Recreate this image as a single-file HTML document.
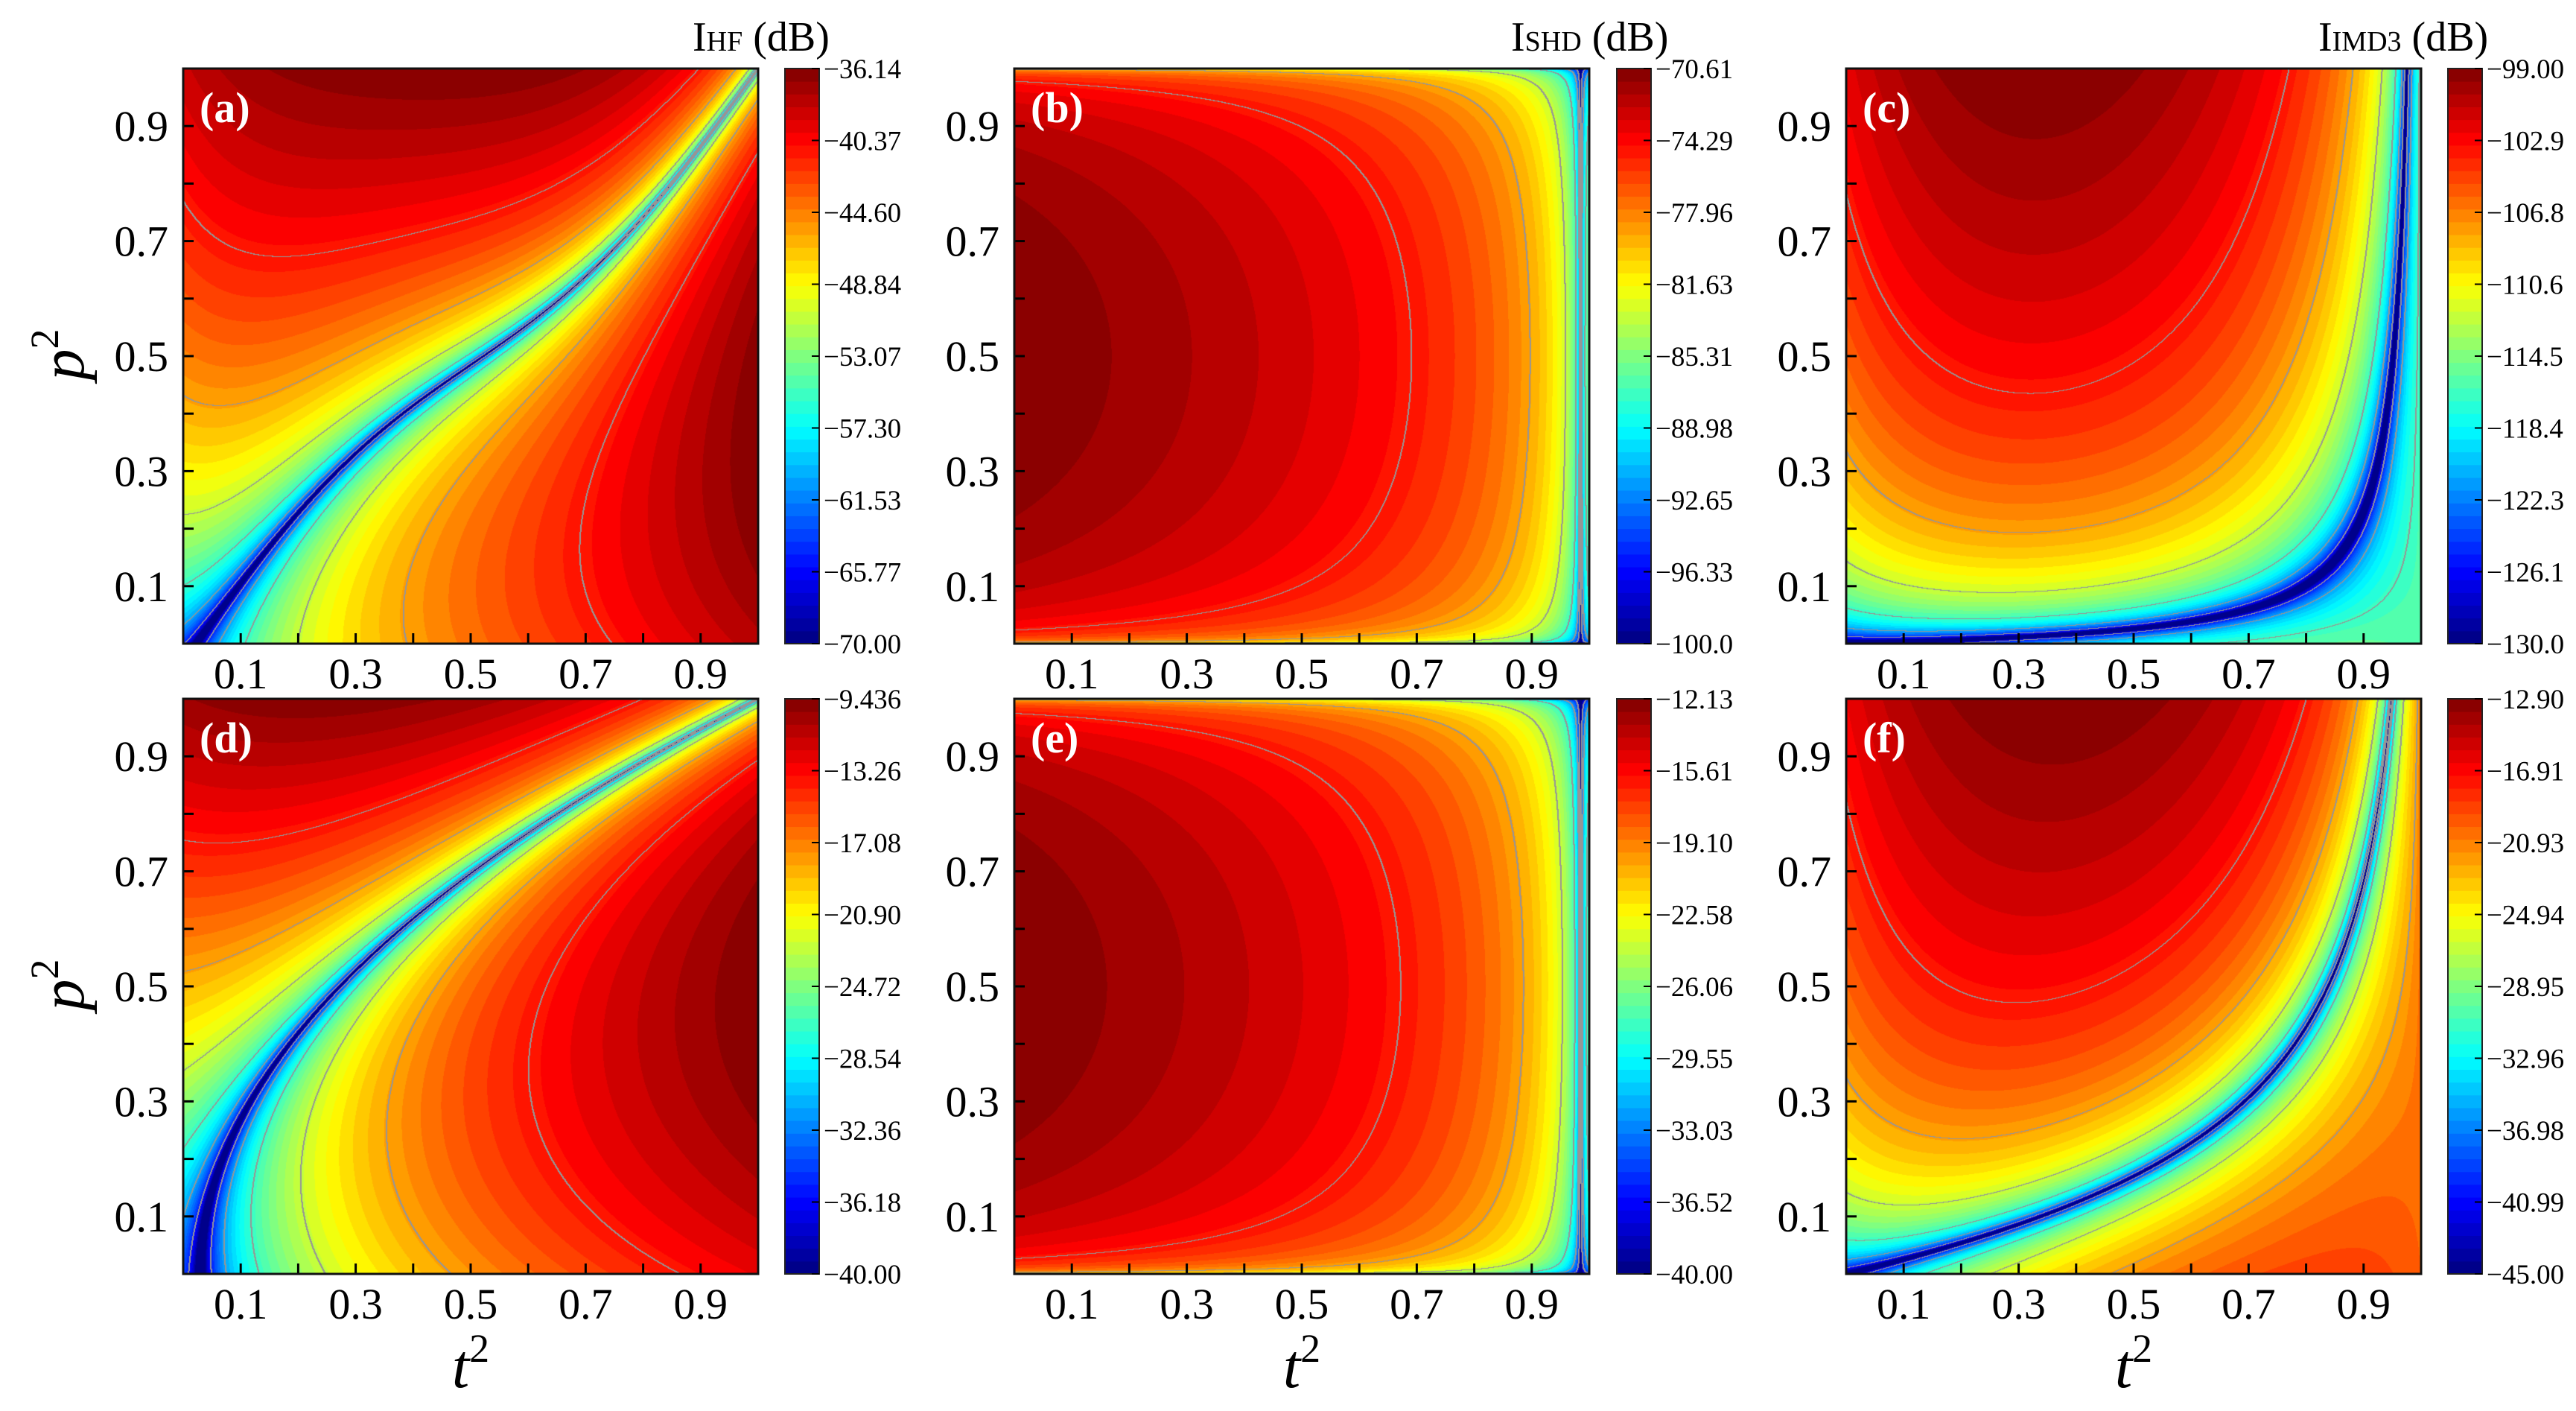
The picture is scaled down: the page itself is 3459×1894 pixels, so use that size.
<!DOCTYPE html>
<html><head><meta charset="utf-8">
<style>
html,body{margin:0;padding:0;background:#fff;}
#root{position:relative;width:3459px;height:1894px;overflow:hidden;background:#fff;font-family:"Liberation Serif",serif;}
canvas{position:absolute;}
svg{position:absolute;left:0;top:0;}
</style></head>
<body>
<div id="root">
<svg id="ov" width="3459" height="1894"></svg>
</div>
<script>
// ---- data ----
const panelLetters = ["(a)","(b)","(c)","(d)","(e)","(f)"];
const cbTicksA = ["−36.14","−40.37","−44.60","−48.84","−53.07","−57.30","−61.53","−65.77","−70.00"];
const cbTicksB = ["−70.61","−74.29","−77.96","−81.63","−85.31","−88.98","−92.65","−96.33","−100.0"];
const cbTicksC = ["−99.00","−102.9","−106.8","−110.6","−114.5","−118.4","−122.3","−126.1","−130.0"];
const cbTicksD = ["−9.436","−13.26","−17.08","−20.90","−24.72","−28.54","−32.36","−36.18","−40.00"];
const cbTicksE = ["−12.13","−15.61","−19.10","−22.58","−26.06","−29.55","−33.03","−36.52","−40.00"];
const cbTicksF = ["−12.90","−16.91","−20.93","−24.94","−28.95","−32.96","−36.98","−40.99","−45.00"];
const cbMax = [-36.14,-70.61,-99.00,-9.436,-12.13,-12.90];
const cbMin = [-70.00,-100.0,-130.0,-40.00,-40.00,-45.00];
const axisTickValues = [0.1,0.2,0.3,0.4,0.5,0.6,0.7,0.8,0.9];
const axisTickLabels = ["0.1","0.3","0.5","0.7","0.9"];
const titles = [["I","HF"],["I","SHD"],["I","IMD3"]];
// model parameters
const nullA = [0.055,0.03];
const nullB = [0.985];
const nullC = [0.0005,0.025];
const nullD = [0.03,0.97];
const nullF = [0.24];
const gainK = [12,8,12,11,8,12];

// ---- layout ----
const colX = [246,1362,2479], rowY = [92,938], S = 772;
const cbX = [1054,2171,3287], cbW = 46;
const NS = "http://www.w3.org/2000/svg";
const ov = document.getElementById('ov');
function el(tag, attrs, parent){const e=document.createElementNS(NS,tag);for(const k in attrs)e.setAttribute(k,attrs[k]);(parent||ov).appendChild(e);return e;}

function jet(x){
  const c=v=>Math.max(0,Math.min(1,v));
  return [c(1.5-Math.abs(4*x-3))*255,c(1.5-Math.abs(4*x-2))*255,c(1.5-Math.abs(4*x-1))*255];
}
function field(i,T,P){
  let g;
  if(i===0){ const pn=(T-nullA[1])/(1-nullA[1])+nullA[0]*Math.sin(2*Math.PI*T); g=(P-pn)*Math.pow(0.15+T,0.8)*(0.3+P); }
  else if(i===1||i===4){ g=Math.abs(nullB[0]-T)*Math.sqrt(4*P*(1-P))+1e-9; }
  else if(i===2){ g=(P*(1-T)-nullC[0]-nullC[1]*T)*(T+0.15)*Math.pow(1.08-T,0.4); }
  else if(i===3){ const tn=nullD[0]+nullD[1]*P*P; g=(T-tn)*Math.pow(0.25+T,0.6)*(0.3+P); }
  else { g=(P*Math.sqrt(Math.max(0,1-T))-nullF[0]*T)*(T+0.15)*Math.pow(1.08-T,0.5); }
  return Math.log10(Math.abs(g)+1e-7);
}
const NL=45;
function drawPanel(i){
  const col=i%3,row=Math.floor(i/3);
  const cv=document.createElement('canvas');
  cv.width=S;cv.height=S;cv.style.left=colX[col]+'px';cv.style.top=rowY[row]+'px';
  
  
  document.getElementById('root').insertBefore(cv,ov);
  const ctx=cv.getContext('2d');
  const img=ctx.createImageData(S,S);
  const lg=new Float32Array(S*S);let mx=-1e9;
  for(let y=0;y<S;y++)for(let x=0;x<S;x++){
    const v=field(i,(x+0.5)/S,1-(y+0.5)/S);lg[y*S+x]=v;if(v>mx)mx=v;}
  const top=cbMax[i],bot=cbMin[i],K=gainK[i];
  const lev2=new Int16Array(S*S);
  for(let k=0;k<S*S;k++){
    const db=top+K*(lg[k]-mx);
    let v=(db-bot)/(top-bot);v=Math.max(0,Math.min(0.9999,v));
    const q=Math.floor(v*NL);lev2[k]=Math.floor(v*7);
    const c=jet((q+0.5)/NL);
    img.data[k*4]=c[0];img.data[k*4+1]=c[1];img.data[k*4+2]=c[2];img.data[k*4+3]=255;
  }
  for(let y=0;y<S-1;y++)for(let x=0;x<S-1;x++){
    const k=y*S+x;
    if(lev2[k]!==lev2[k+1]||lev2[k]!==lev2[k+S]){
      for(const kk of [k,k+1]){img.data[kk*4]=150;img.data[kk*4+1]=150;img.data[kk*4+2]=150;}
    }
  }
  ctx.putImageData(img,0,0);
}
for(let i=0;i<6;i++)drawPanel(i);

const cbTicksAll=[cbTicksA,cbTicksB,cbTicksC,cbTicksD,cbTicksE,cbTicksF];
for(let i=0;i<6;i++){
  const col=i%3,row=Math.floor(i/3);
  const x0=colX[col],y0=rowY[row];
  const sx=v=>x0+v*S, sy=v=>y0+(1-v)*S;
  const g=el('g',{});
  
  
  axisTickValues.forEach(v=>{
    el('line',{x1:sx(v),x2:sx(v),y1:y0+S,y2:y0+S-14,stroke:'#000','stroke-width':3},g);
    el('line',{x1:x0,x2:x0+14,y1:sy(v),y2:sy(v),stroke:'#000','stroke-width':3},g);
  });
  el('rect',{x:x0,y:y0,width:S,height:S,fill:'none',stroke:'#111','stroke-width':3},g);
  axisTickLabels.forEach(s=>{
    const v=parseFloat(s);
    const t=el('text',{x:sx(v),y:y0+S+60,'font-size':58,'text-anchor':'middle'},g);t.textContent=s;
    
    
    const t2=el('text',{x:x0-20,y:sy(v)+20,'font-size':58,'text-anchor':'end'},g);t2.textContent=s;
    
    
  });
  const pl=el('text',{x:x0+22,y:y0+72,'font-size':58,'font-weight':'bold',fill:'#fff'},g);pl.textContent=panelLetters[i];
  
  
  const cx=cbX[col];
  const cb=el('g',{},g);
  
  
  for(let k=0;k<NL;k++){
    const c=jet((k+0.5)/NL);
    const h=S/NL;
    el('rect',{x:cx,y:y0+S-(k+1)*h-0.5,width:cbW,height:h+1,fill:`rgb(${c[0]|0},${c[1]|0},${c[2]|0})`},cb);
  }
  el('rect',{x:cx,y:y0,width:cbW,height:S,fill:'none',stroke:'#222','stroke-width':2},cb);
  const tk=cbTicksAll[i];
  tk.forEach((s,j)=>{
    const yy=y0+j*S/(tk.length-1);
    el('line',{x1:cx+cbW-10,x2:cx+cbW,y1:yy,y2:yy,stroke:'#000','stroke-width':2},cb);
    const t=el('text',{x:cx+cbW+6,y:yy+13,'font-size':37},cb);t.textContent=s;
    
    
  });
}
const titleX=[930,2029,3113];
titles.forEach((tt,c)=>{
  const t=el('text',{x:titleX[c],y:68,'font-size':56});
  
  
  const a=el('tspan',{},t);a.textContent=tt[0];
  const b=el('tspan',{'font-size':38},t);b.textContent=tt[1];
  const d=el('tspan',{},t);d.textContent=' (dB)';
});
[476,1322].forEach(yc=>{
  const t=el('text',{x:0,y:0,'font-size':84,'font-style':'italic',transform:`translate(112,${yc}) rotate(-90)`,'text-anchor':'middle'});
  
  
  const a=el('tspan',{},t);a.textContent='p';
  const b=el('tspan',{'font-size':54,'font-style':'normal',dy:-34},t);b.textContent='2';
});
colX.forEach(x=>{
  const t=el('text',{x:x+S/2,y:1862,'font-size':84,'font-style':'italic','text-anchor':'middle'});
  
  
  const a=el('tspan',{},t);a.textContent='t';
  const b=el('tspan',{'font-size':54,'font-style':'normal',dy:-34},t);b.textContent='2';
});
</script>
</body></html>
